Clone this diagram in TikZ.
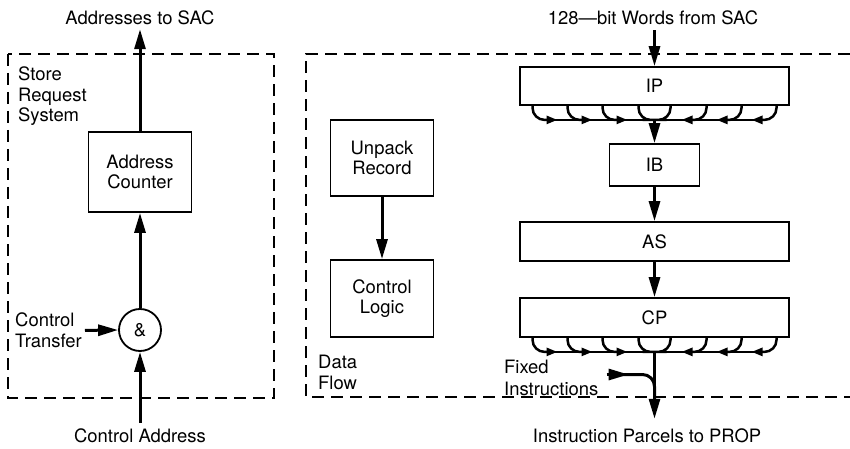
\documentclass[tikz,border=0pt]{standalone}
\usepackage{fontspec}
\setmainfont{TeX Gyre Heros}
\usetikzlibrary{arrows.meta}

\tikzset{
  box/.style={draw, line width=1.8bp, align=center, inner sep=0pt},
  wide/.style={box, minimum width=269bp, minimum height=38bp},
  txt/.style={inner sep=0pt, align=left},
  flow/.style={line width=3bp, -{Triangle[length=20bp,width=11bp]}},
  curl/.style={line width=2.5bp, rounded corners=12bp},
  bustip/.style={-{Triangle[length=11bp,width=8bp]}},
  frame/.style={line width=1.5bp, dash pattern=on 12bp off 7bp},
}

\begin{document}
\begin{tikzpicture}[x=1bp, y=-1bp, every node/.style={font=\fontsize{18.5}{20.5}\selectfont}]
    \useasboundingbox (0,0) rectangle (850,449);

    \draw[frame] (8,54) rectangle (274,398);
    \draw[frame] (850,54) -| (306,397) -- (850,397);

    \node[txt, anchor=north west] (srs) at (18,67) {Store\\Request\\System};
    \node[txt] (sac) at (140,18) {Addresses to SAC};
    \node[box, minimum width=103bp, minimum height=80bp] (counter) at (140,172) {Address\\Counter};
    \node[box, circle, minimum size=42bp] (andgate) at (140,330) {\&};
    \node[txt, anchor=north west] (xfer) at (15,313) {Control\\Transfer};
    \node[txt] (caddr) at (140,436) {Control Address};

    \draw[flow, shorten >=4bp] (counter.north) -- (sac.south);
    \draw[flow] (andgate.north) -- (counter.south);
    \draw[flow, shorten <=3bp] (xfer.east) -- (andgate.west);
    \draw[flow, shorten <=6bp] (caddr.north) -- (andgate.south);

    \node[txt] (words) at (653,18) {128---bit Words from SAC};
    \node[wide] (ip) at (654.5,86) {IP};
    \node[box, minimum width=90bp, minimum height=42bp] (ib) at (654.5,165) {IB};
    \node[wide, minimum height=39bp] (as) at (654.5,241.5) {AS};
    \node[wide, minimum height=39bp] (cp) at (654.5,317.5) {CP};
    \node[box, minimum width=103bp, minimum height=76bp] (unpack) at (382,158) {Unpack\\Record};
    \node[box, minimum width=103bp, minimum height=77bp] (logic) at (382,298.5) {Control\\Logic};
    \node[txt, anchor=north west] (dflow) at (318,355) {Data\\Flow};
    \node[txt, anchor=north west, font=\fontsize{18.5}{22}\selectfont] (fixed) at (504,360) {Fixed\\Instructions};
    \node[txt] (parcels) at (647,436) {Instruction Parcels to PROP};

    \coordinate (ipjoin) at ([yshift=-14bp]ip.south);
    \coordinate (cpjoin) at ([yshift=-14bp]cp.south);

    \foreach \bus in {ip,cp} {
        \draw[line width=2.5bp] ([xshift=-110bp,yshift=-14bp]\bus.south) -- ([xshift=110bp,yshift=-14bp]\bus.south);
        \foreach \dx in {-122,-87,-52}
            \draw[curl, bustip] ([xshift=\dx bp]\bus.south) |- ([xshift=\dx bp+25bp,yshift=-14bp]\bus.south);
        \foreach \dx in {122,87,52}
            \draw[curl, bustip] ([xshift=\dx bp]\bus.south) |- ([xshift=\dx bp-25bp,yshift=-14bp]\bus.south);
        \draw[curl] ([xshift=-16bp]\bus.south) |- ([yshift=-14bp]\bus.south) -| ([xshift=16bp]\bus.south);
    }

    \draw[flow, shorten <=5bp] (ip.north |- words.south) -- (ip.north);
    \draw[flow] (ipjoin) -- (ib.north);
    \draw[flow] (ib.south) -- (as.north);
    \draw[flow] (as.south) -- (cp.north);
    \draw[flow] (unpack.south) -- (logic.north);
    \draw[flow, shorten >=10bp] (cpjoin) -- (cpjoin |- parcels.north);
    \draw[flow] ([shift={(8bp,3.5bp)}]fixed.east) -- ++(22,0);
    \draw[line width=3bp, rounded corners=12bp] ([shift={(20bp,3.5bp)}]fixed.east) -| (cpjoin |- 0,400);
\end{tikzpicture}
\end{document}
